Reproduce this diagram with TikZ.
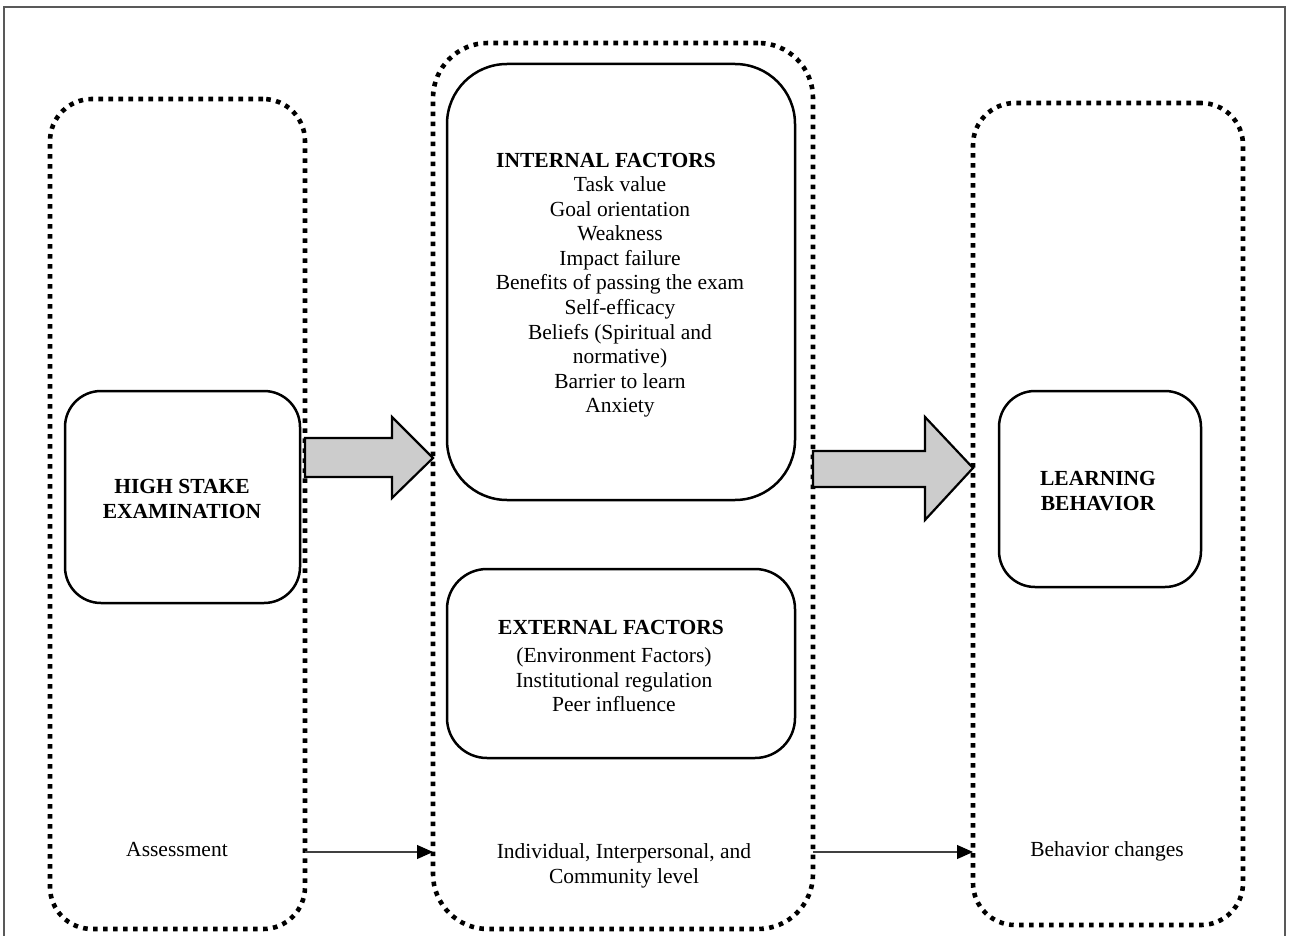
\documentclass[tikz,border=0pt]{standalone}
\usepackage{fontspec}
\setmainfont{Liberation Serif}
\usetikzlibrary{arrows.meta}
\begin{document}
\begin{tikzpicture}[x=1pt,y=-1pt,
  dotbox/.style={draw, line width=4.6pt, dash pattern=on 4.6pt off 5.4pt, rectangle, inner sep=0pt, outer sep=0pt},
  solidbox/.style={draw, line width=2.5pt, rectangle, inner sep=0pt, outer sep=0pt},
  blockarrow/.style={draw, line width=2.2pt, fill=black!20, line join=miter},
  thinarrow/.style={draw=black!75, line width=1.1pt, -{Triangle[length=16pt,width=14pt,fill=black,color=black]}},
  txt/.style={font=\fontsize{21.5}{24.6}\selectfont, align=center, inner sep=0pt},
  btxt/.style={font=\fontsize{21.5}{24.6}\selectfont\bfseries, align=center, inner sep=0pt}
]
\useasboundingbox (0,0) rectangle (1290,936);
% outer frame
\draw[black!65, line width=1.5pt] (4,936) -- (4,7) -- (1285,7) -- (1285,936);

% dotted containers
\node[dotbox, rounded corners=42pt, minimum width=255pt, minimum height=830pt] (L) at (177.5,514) {};
\node[dotbox, rounded corners=55pt, minimum width=380pt, minimum height=886pt] (M) at (623,486) {};
\node[dotbox, rounded corners=42pt, minimum width=270pt, minimum height=822pt] (R) at (1108,514) {};

% solid boxes
\node[solidbox, rounded corners=36pt, minimum width=235pt, minimum height=212pt] (hs) at (182.5,497) {};
\node[solidbox, rounded corners=60pt, minimum width=348pt, minimum height=436pt] (int) at (621,282) {};
\node[solidbox, rounded corners=40pt, minimum width=348pt, minimum height=189pt] (ext) at (621,663.5) {};
\node[solidbox, rounded corners=36pt, minimum width=202pt, minimum height=196pt] (lb) at (1100,489) {};

% texts
\node[btxt] (hst) at (182,499) {HIGH STAKE\\EXAMINATION};
\node[btxt] (lbt) at (1098,491) {LEARNING\\BEHAVIOR};
\node[btxt] (intt) at (606,160) {INTERNAL FACTORS};
\node[txt] (intl) at (620,297) {Task value\\Goal orientation\\Weakness\\Impact failure\\Benefits of passing the exam\\Self-efficacy\\Beliefs (Spiritual and\\normative)\\Barrier to learn\\Anxiety};
\node[btxt] (extt) at (611,627) {EXTERNAL FACTORS};
\node[txt] (extl) at (614,680) {(Environment Factors)\\Institutional regulation\\Peer influence};
\node[txt] (as) at (177,849) {Assessment};
\node[txt] (ind) at (624,866) {Individual, Interpersonal, and\\Community level};
\node[txt] (bc) at (1107,851) {Behavior changes};

% block arrows
\path[blockarrow] (L.east |- 0,438) -- (392,438) -- (392,417) -- (M.west |- 0,458) -- (392,498) -- (392,477) -- (L.east |- 0,477) -- cycle;
\path[blockarrow] (M.east |- 0,451) -- (925,451) -- (925,417) -- (R.west |- 0,468) -- (925,520) -- (925,487) -- (M.east |- 0,487) -- cycle;

% thin arrows
\coordinate (a1s) at (L.east |- 0,852);
\coordinate (a1e) at (M.west |- 0,852);
\coordinate (a2s) at (M.east |- 0,852);
\coordinate (a2e) at (R.west |- 0,852);
\draw[thinarrow] (a1s) -- (a1e);
\draw[thinarrow] (a2s) -- (a2e);
\end{tikzpicture}
\end{document}
